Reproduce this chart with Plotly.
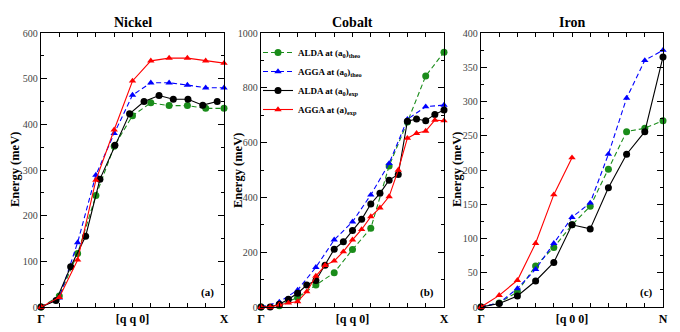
import plotly.graph_objects as go

# ---- data (energies in meV) ----
q_ni = [0.0, 0.1, 0.2, 0.3, 0.4, 0.5, 0.6, 0.7, 0.8, 0.9, 1.0]
q_ni_exp = [0.0, 0.082, 0.162, 0.244, 0.322, 0.404, 0.484, 0.563, 0.645, 0.723, 0.803, 0.884, 0.963]
ni_alda_theo = [0, 24, 117, 244, 352, 419, 447, 441, 441, 435, 435]
ni_agga_theo = [0, 20, 141, 289, 380, 464, 491, 491, 486, 480, 480]
ni_alda_exp = [0, 14, 88, 155, 280, 354, 423, 450, 463, 455, 455, 442, 450]
ni_agga_exp = [0, 21, 103, 278, 388, 495, 539, 545, 545, 539, 534]

q_co = [0.0, 0.1, 0.2, 0.3, 0.4, 0.5, 0.6, 0.7, 0.8, 0.9, 1.0]
q_co_exp = [0.0, 0.05, 0.1, 0.15, 0.2, 0.25, 0.3, 0.35, 0.4, 0.45, 0.5,
            0.55, 0.6, 0.65, 0.7, 0.75, 0.8, 0.85, 0.9, 0.95, 1.0]
co_alda_theo = [0, 5, 35, 80, 125, 210, 287, 515, 675, 843, 930]
co_agga_theo = [0, 18, 62, 145, 245, 311, 409, 524, 685, 731, 737]
co_alda_exp = [0, 0, 10, 28, 50, 80, 97, 152, 211, 238, 279,
               320, 376, 415, 463, 484, 678, 686, 680, 703, 719]
co_agga_exp = [0, 0, 8, 15, 20, 56, 113, 152, 168, 202, 245,
               283, 330, 362, 403, 500, 616, 634, 642, 682, 680]

q_fe = [0.0, 0.1, 0.2, 0.3, 0.4, 0.5, 0.6, 0.7, 0.8, 0.9, 1.0]
q_fe_red = [0.0, 0.1, 0.2, 0.3, 0.4, 0.5]
fe_alda_theo = [0, 6, 22, 60, 87, 120, 147, 201, 256, 261, 272]
fe_agga_theo = [0, 6, 27, 55, 93, 131, 152, 223, 305, 360, 375]
fe_alda_exp = [0, 5, 16, 38, 65, 120, 114, 174, 223, 256, 365]
fe_agga_exp = [0, 17, 39, 93, 164, 218]

names = ["ALDA at (a<sub>0</sub>)<sub>theo</sub>", "AGGA at (a<sub>0</sub>)<sub>theo</sub>",
         "ALDA at (a<sub>0</sub>)<sub>exp</sub>", "AGGA at (a)<sub>exp</sub>"]
titles = ["Nickel", "Cobalt", "Iron"]
xlabels = [["Γ", "[q q 0]", "X"], ["Γ", "[q q 0]", "X"], ["Γ", "[q 0 0]", "N"]]
tags = ["(a)", "(b)", "(c)"]

W, H = 680, 332
SERIF = "Liberation Serif"
GREEN = "#1a8c1a"

# pixel boxes of the three panels
xbox = [(41, 224), (261, 444), (481, 663)]
ybox = (33, 307)
yranges = [(600, 100, 50), (1000, 200, 100), (400, 50, 25)]
ytitle_x = [15, 238, 457]

panels = [
    (q_ni, ni_alda_theo, q_ni, ni_agga_theo, q_ni_exp, ni_alda_exp, q_ni, ni_agga_exp),
    (q_co, co_alda_theo, q_co, co_agga_theo, q_co_exp, co_alda_exp, q_co_exp, co_agga_exp),
    (q_fe, fe_alda_theo, q_fe, fe_agga_theo, q_fe, fe_alda_exp, q_fe_red, fe_agga_exp),
]

styles = [
    dict(color=GREEN, dash="5px,3px", symbol="circle", size=7),
    dict(color="#0000ff", dash="5px,3px", symbol="triangle-up", size=6.5),
    dict(color="#000000", dash="solid", symbol="circle", size=7),
    dict(color="#ff0000", dash="solid", symbol="triangle-up", size=6.5),
]

fig = go.Figure()

for p, data in enumerate(panels):
    xa = "x" if p == 0 else f"x{p+1}"
    ya = "y" if p == 0 else f"y{p+1}"
    for s in range(4):
        st = styles[s]
        fig.add_trace(go.Scatter(
            x=data[2*s], y=data[2*s+1],
            mode="lines+markers",
            name=names[s],
            line=dict(color=st["color"], width=1.1, dash=st["dash"]),
            marker=dict(color=st["color"], symbol=st["symbol"], size=st["size"]),
            cliponaxis=False,
            showlegend=(p == 1),
            xaxis=xa, yaxis=ya,
        ))

layout = dict(
    width=W, height=H,
    template="none",
    margin=dict(l=0, r=0, t=0, b=0, autoexpand=False),
    paper_bgcolor="white", plot_bgcolor="white",
    font=dict(family=SERIF, color="#000"),
    legend=dict(
        x=258 / W, y=1 - 38 / H, xanchor="left", yanchor="top",
        bgcolor="rgba(0,0,0,0)", borderwidth=0,
        font=dict(family=SERIF, size=9, color="#000", weight="bold"),
        itemwidth=30, tracegroupgap=0,
    ),
)

annotations = []
for p in range(3):
    sfx = "" if p == 0 else str(p + 1)
    x0, x1 = xbox[p]
    ymax, dt, mdt = yranges[p]
    layout[f"xaxis{sfx}"] = dict(
        domain=[x0 / W, x1 / W], range=[0, 1], anchor=f"y{sfx}", automargin=False,
        showgrid=False, zeroline=False,
        showline=True, linecolor="#000", linewidth=1.3, mirror="ticks",
        tickmode="array", tickvals=[0, 0.5, 1], ticktext=xlabels[p],
        ticks="inside", ticklen=4, tickcolor="#000",
        tickfont=dict(family=SERIF, size=12, color="#000", weight="bold"),
        minor=dict(tickmode="linear", tick0=0, dtick=0.1, ticks="inside", ticklen=4, tickcolor="#000"),
    )
    layout[f"yaxis{sfx}"] = dict(
        domain=[1 - ybox[1] / H, 1 - ybox[0] / H], range=[0, ymax], anchor=f"x{sfx}", automargin=False,
        showgrid=False, zeroline=False,
        showline=True, linecolor="#000", linewidth=1.3, mirror="ticks",
        tick0=0, dtick=dt, ticks="inside", ticklen=6, tickcolor="#000",
        tickfont=dict(family=SERIF, size=10, color="#444"),
        minor=dict(tick0=0, dtick=mdt, ticks="inside", ticklen=3, tickcolor="#000"),
    )
    annotations.append(dict(
        x=(x0 + x1) / 2 / W, y=1 - 23 / H, xref="paper", yref="paper",
        xanchor="center", yanchor="middle",
        text=f"<b>{titles[p]}</b>", showarrow=False,
        font=dict(family=SERIF, size=14, color="#000"),
    ))
    annotations.append(dict(
        x=ytitle_x[p] / W, y=1 - 170 / H, xref="paper", yref="paper",
        xanchor="center", yanchor="middle",
        text="<b>Energy (meV)</b>", showarrow=False, textangle=-90,
        font=dict(family=SERIF, size=12.5, color="#000"),
    ))
    annotations.append(dict(
        x=(x1 - 8) / W, y=1 - 292 / H, xref="paper", yref="paper",
        xanchor="right", yanchor="middle", text=f"<b>{tags[p]}</b>", showarrow=False,
        font=dict(family=SERIF, size=11, color="#000"),
    ))

layout["annotations"] = annotations
fig.update_layout(**layout)

# drop the page's default body margin so the figure sits at the window origin
fig.write_html("out.html", config={"displayModeBar": False},
               post_script="document.body.style.margin='0';")
